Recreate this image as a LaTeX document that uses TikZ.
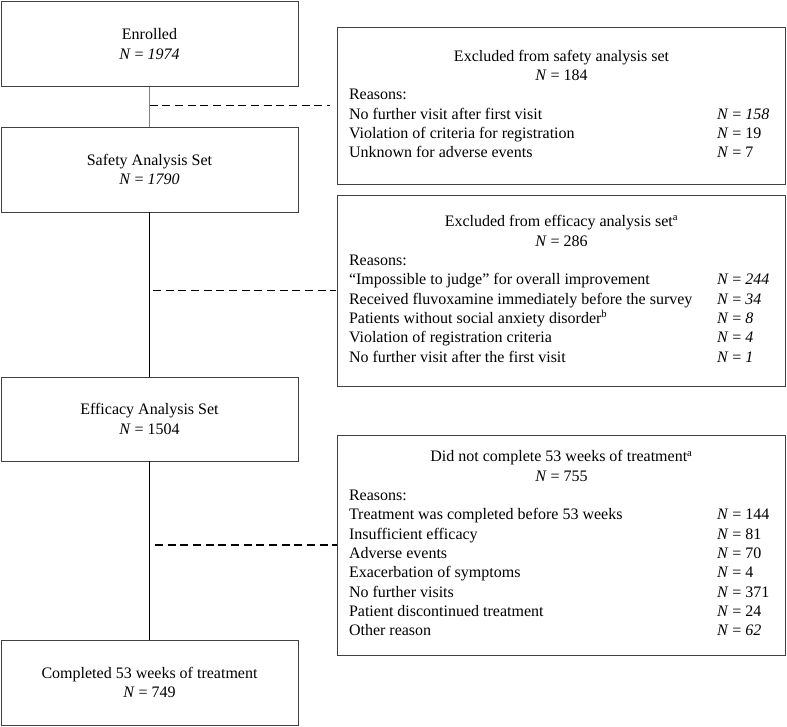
\documentclass[tikz,border=0pt]{standalone}
\usepackage{fontspec}
\setmainfont{Liberation Serif}
\usetikzlibrary{positioning}
\definecolor{edge}{rgb}{0.25,0.25,0.25}
\newcommand{\nrom}[1]{\textit{N} = #1}
\newcommand{\nita}[1]{\textit{N} = \textit{#1}}
\newcommand{\cnt}[2][42.75pt]{\makebox[#1][l]{#2}}
\begin{document}
\begin{tikzpicture}[
  x=0.75pt, y=-0.75pt,
  font=\fontsize{12}{14.5}\selectfont,
  stage/.style = {draw=edge, line width=0.7pt, minimum width=222.75pt,
    minimum height=63.75pt, inner sep=0pt, align=center},
  reasons/.style = {draw=edge, line width=0.7pt, minimum width=336pt, inner sep=0pt},
  link/.style = {line width=0.6pt, color=gray},
  flow/.style = {line width=1.1pt},
  split/.style = {line width=1.3pt, dash pattern=on 6pt off 3.5pt},
]

  \useasboundingbox (0,0) rectangle (787,726);

  % main stages
  \node[stage] (enrolled) at (149.5,44) {Enrolled\\\nita{1974}};
  \node[stage] (safety) at (149.5,169.5) {Safety Analysis Set\\\nita{1790}};
  \node[stage, minimum height=63pt] (efficacy) at (149.5,419) {Efficacy Analysis Set\\\nrom{1504}};
  \node[stage] (completed) at (149.5,682.5) {Completed 53 weeks of treatment\\\nrom{749}};

  % exclusions
  \node[reasons, minimum height=117.75pt] (exsafety) at (561.5,105.5) {%
    \begin{tabular}{@{}p{276pt}@{}l@{}}
      \multicolumn{2}{c}{Excluded from safety analysis set}\\
      \multicolumn{2}{c}{\nrom{184}}\\
      Reasons: & \\
      No further visit after first visit & \cnt{\nita{158}}\\
      Violation of criteria for registration & \cnt{\nrom{19}}\\
      Unknown for adverse events & \cnt{\nrom{7}}
    \end{tabular}};
  \node[reasons, minimum height=143.25pt] (exefficacy) at (561.5,290.5) {%
    \begin{tabular}{@{}p{276pt}@{}l@{}}
      \multicolumn{2}{c}{Excluded from efficacy analysis set\textsuperscript{a}}\\
      \multicolumn{2}{c}{\nrom{286}}\\
      Reasons: & \\
      “Impossible to judge” for overall improvement & \cnt{\nita{244}}\\
      Received fluvoxamine immediately before the survey & \cnt{\nita{34}}\\
      Patients without social anxiety disorder\textsuperscript{b} & \cnt{\nita{8}}\\
      Violation of registration criteria & \cnt{\nita{4}}\\
      No further visit after the first visit & \cnt{\nita{1}}
    \end{tabular}};
  \node[reasons, minimum height=165pt] (notdone) at (561.5,545) {%
    \begin{tabular}{@{}p{276pt}@{}l@{}}
      \multicolumn{2}{c}{Did not complete 53 weeks of treatment\textsuperscript{a}}\\
      \multicolumn{2}{c}{\nrom{755}}\\
      Reasons: & \\
      Treatment was completed before 53 weeks & \cnt{\nrom{144}}\\
      Insufficient efficacy & \cnt{\nrom{81}}\\
      Adverse events & \cnt{\nrom{70}}\\
      Exacerbation of symptoms & \cnt{\nrom{4}}\\
      No further visits & \cnt{\nrom{371}}\\
      Patient discontinued treatment & \cnt{\nrom{24}}\\
      Other reason & \cnt{\nita{62}}
    \end{tabular}};

  \draw[link] (enrolled) -- (safety);
  \draw[flow] (safety) -- (efficacy);
  \draw[flow] (efficacy) -- (completed);

  \draw[split, shorten >=5.5pt] (exsafety.west -| enrolled.south) -- (exsafety.west);
  \draw[split, shorten <=2.5pt, shorten >=1pt] (exefficacy.west -| safety.south) -- (exefficacy.west);
  \draw[split, shorten <=4pt] (notdone.west -| efficacy.south) -- (notdone.west);

\end{tikzpicture}
\end{document}
